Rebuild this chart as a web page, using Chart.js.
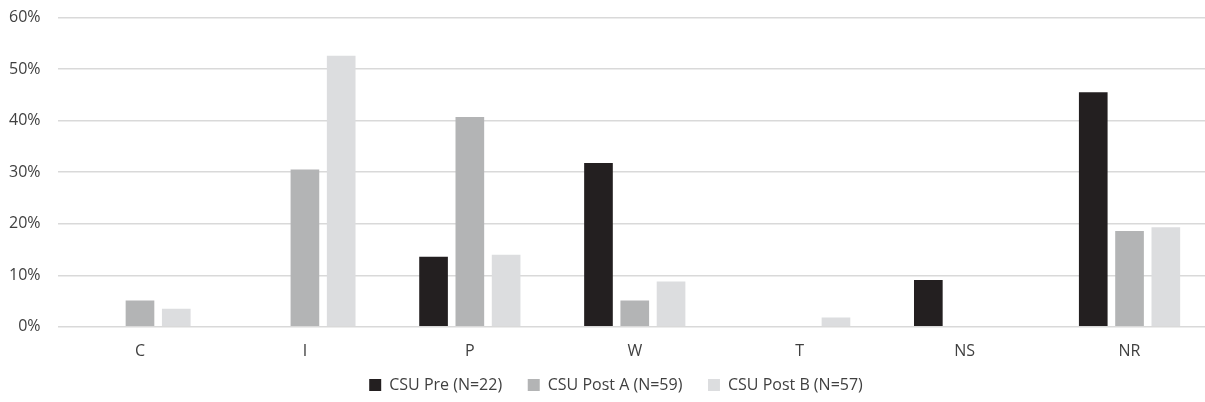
<!DOCTYPE html>
<html lang="en">
<head>
  <meta charset="UTF-8" />
  <title>CSU responses</title>
  <script src="https://cdn.jsdelivr.net/npm/chart.js"></script>
  <style>
    body {
      margin: 0;
      padding: 0;
      background-color: #fff;
    }
    .wrap {
      position: relative;
      width: 1205px;
      height: 402px;
      overflow: hidden;
    }
    #chart {
      position: absolute;
      left: 0;
      top: -9px;
    }
  </style>
</head>
<body>
  <div class="wrap">
    <canvas id="chart" width="1212" height="411"></canvas>
  </div>
  <script>
    const categories = ['C', 'I', 'P', 'W', 'T', 'NS', 'NR'];
    const csuPre = [0, 0, 13.6, 31.8, 0, 9.1, 45.5];
    const csuPostA = [5.1, 30.5, 40.7, 5.1, 0, 0, 18.6];
    const csuPostB = [3.5, 52.6, 14.0, 8.8, 1.8, 0, 19.3];
    const yTicks = [0, 10, 20, 30, 40, 50, 60];

    const textColor = '#404040';
    const font = { family: "'Open Sans', 'Liberation Sans', sans-serif", size: 16 };

    // legend sits a bit right of centre in the original
    const legendShift = {
      id: 'legendShift',
      afterLayout(chart) {
        chart.legend.left += 14;
        chart.legend.right += 14;
      }
    };

    const ctx = document.getElementById('chart').getContext('2d');
    new Chart(ctx, {
      type: 'bar',
      data: {
        labels: categories,
        datasets: [
          { label: 'CSU Pre (N=22)', data: csuPre, backgroundColor: '#231f20' },
          { label: 'CSU Post A (N=59)', data: csuPostA, backgroundColor: '#b3b4b5' },
          { label: 'CSU Post B (N=57)', data: csuPostB, backgroundColor: '#dcdddf' }
        ]
      },
      plugins: [legendShift],
      options: {
        responsive: false,
        animation: false,
        categoryPercentage: 0.66,
        barPercentage: 0.79,
        layout: { padding: { left: -8, right: 0, top: 0, bottom: -1 } },
        scales: {
          y: {
            min: 0,
            max: 60,
            afterBuildTicks: function(axis) {
              axis.ticks = yTicks.map(v => ({ value: v }));
            },
            ticks: {
              callback: function(value) { return value + '%'; },
              color: textColor,
              font: font,
              padding: 17
            },
            grid: { color: '#d9d9d9', lineWidth: 1.5, drawTicks: false },
            border: { display: false }
          },
          x: {
            ticks: { color: textColor, font: font, padding: 7 },
            grid: { display: false },
            border: { display: false }
          }
        },
        plugins: {
          legend: {
            position: 'bottom',
            labels: {
              color: textColor,
              font: font,
              boxWidth: 12,
              boxHeight: 12,
              padding: 9,
              // wider gap between items than the vertical padding
              generateLabels: function(chart) {
                const items = Chart.defaults.plugins.legend.labels.generateLabels(chart);
                items.forEach((it, i) => {
                  if (i < items.length - 1) it.text = it.text + '    ';
                });
                return items;
              }
            }
          },
          tooltip: { enabled: false }
        }
      }
    });
  </script>
</body>
</html>
